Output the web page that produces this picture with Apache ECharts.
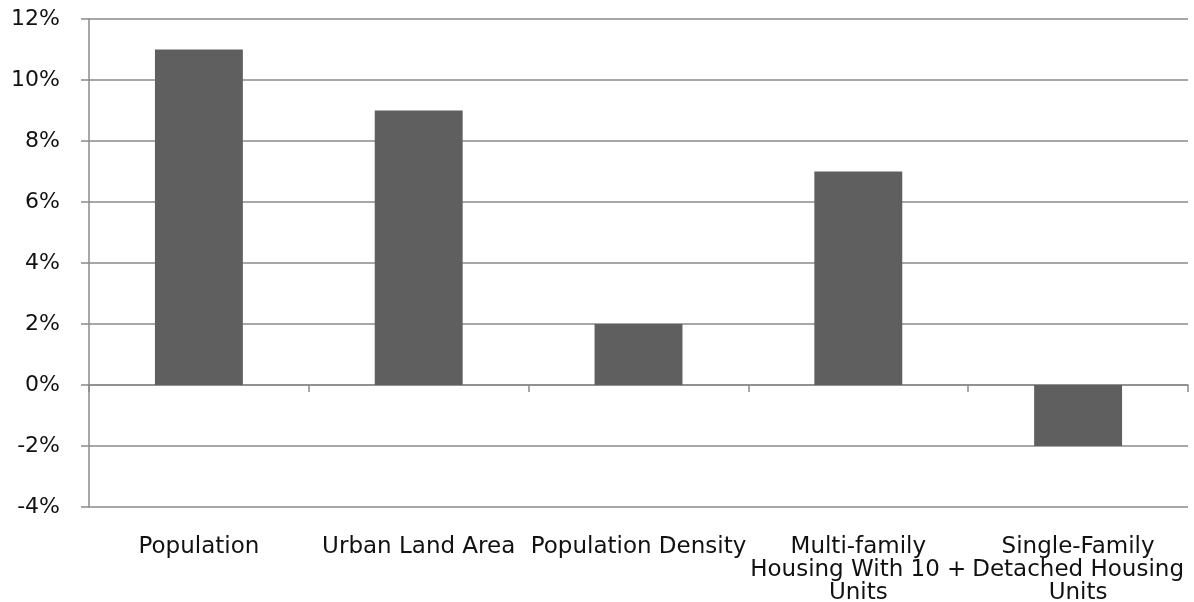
<!DOCTYPE html>
<html>
<head>
<meta charset="utf-8">
<script src="https://cdn.jsdelivr.net/npm/echarts@6/dist/echarts.min.js"></script>
<style>
  html, body { margin: 0; padding: 0; background: #ffffff; }
  #chart { width: 1194px; height: 602px; }
</style>
</head>
<body>
<div id="chart"></div>
<script>
// Percent change by measure
const categories = [
  'Population',
  'Urban Land Area',
  'Population Density',
  'Multi-family\nHousing With 10 +\nUnits',
  'Single-Family\nDetached Housing\nUnits'
];
const changePct = [11, 9, 2, 7, -2];
const yMin = -4, yMax = 12, yStep = 2;

const gridGray = '#8a8a8a';
const textColor = '#111111';
const fontFamily = '"DejaVu Sans", Arial, sans-serif';

const chart = echarts.init(document.getElementById('chart'));
chart.setOption({
  animation: false,
  backgroundColor: '#ffffff',
  grid: { left: 89, right: 6, top: 19, bottom: 95, containLabel: false, outerBoundsMode: 'none' },
  xAxis: [
    {
      // axis line drawn along zero, with boundary ticks
      type: 'category',
      data: categories,
      axisLine: { show: true, onZero: true, lineStyle: { color: gridGray, width: 1.5 } },
      axisTick: { show: true, length: 7, lineStyle: { color: gridGray, width: 1.5 } },
      axisLabel: { show: false },
      splitLine: { show: false }
    },
    {
      // category labels below the plot
      type: 'category',
      data: categories,
      position: 'bottom',
      axisLine: { show: false },
      axisTick: { show: false },
      axisLabel: {
        show: true,
        interval: 0,
        margin: 29,
        color: textColor,
        fontFamily: fontFamily,
        fontSize: 23,
        lineHeight: 23,
        align: 'center'
      }
    }
  ],
  yAxis: {
    type: 'value',
    min: yMin,
    max: yMax,
    interval: yStep,
    axisLine: { show: true, lineStyle: { color: gridGray, width: 1.5 } },
    axisTick: { show: true, length: 8, lineStyle: { color: gridGray, width: 1.5 } },
    axisLabel: {
      margin: 29,
      color: textColor,
      fontFamily: fontFamily,
      fontSize: 22,
      formatter: v => v + '%'
    },
    splitLine: { show: true, lineStyle: { color: gridGray, width: 1.5 } }
  },
  series: [{
    type: 'bar',
    xAxisIndex: 0,
    data: changePct,
    barWidth: '40%',
    itemStyle: { color: '#5f5f5f' }
  }]
});
</script>
</body>
</html>
